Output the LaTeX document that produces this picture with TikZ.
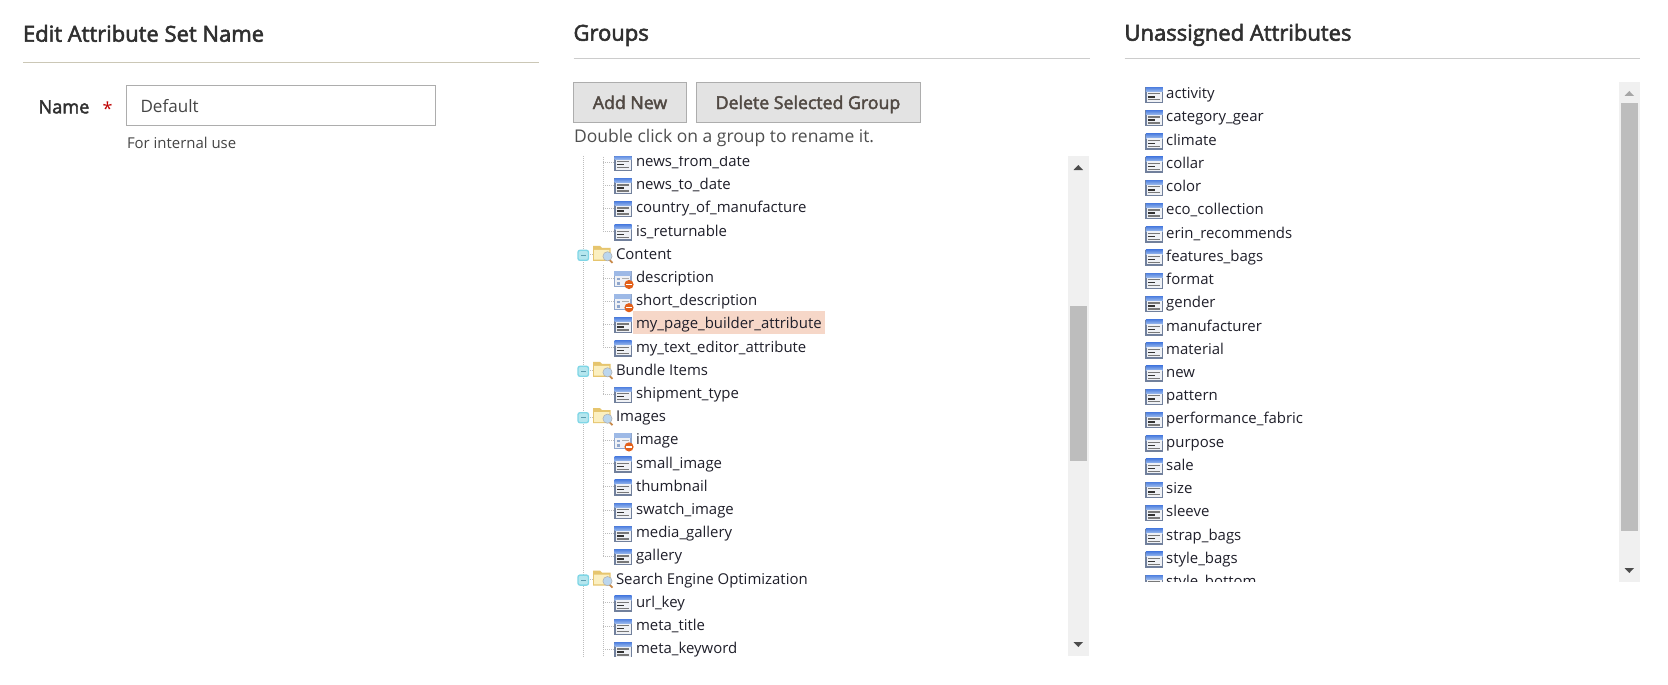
\documentclass[tikz,border=0pt]{standalone}
\usepackage{fontspec}
\setmainfont{Open Sans}
\newfontfamily\semifont[FakeBold=2.5]{Open Sans}
\definecolor{headc}{HTML}{303030}
\definecolor{rulec}{HTML}{CCCCCC}
\definecolor{rulea}{HTML}{CBC7B6}
\definecolor{boxc}{HTML}{ADADAD}
\definecolor{btnc}{HTML}{E3E3E3}
\definecolor{btnt}{HTML}{514943}
\definecolor{treet}{HTML}{1F1F2A}
\definecolor{track}{HTML}{F0F0F0}
\definecolor{thumb}{HTML}{BDBDBD}
\definecolor{hilite}{HTML}{F6D7C8}
\definecolor{treel}{HTML}{BDBDBD}
\definecolor{iconframe}{HTML}{71809C}
\definecolor{icontop}{HTML}{4F80E0}
\definecolor{iconbot}{HTML}{9DBBEC}
\definecolor{iconbody}{HTML}{EFF1F5}
\definecolor{iconline}{HTML}{787878}
\definecolor{iconmid}{HTML}{333333}
\definecolor{lockframe}{HTML}{8FA6CC}
\definecolor{locktop}{HTML}{9DB9E6}
\definecolor{lockdot}{HTML}{E2601A}
\definecolor{foldb}{HTML}{E6C56E}
\definecolor{foldf}{HTML}{FBEFC0}
\definecolor{glass}{HTML}{BBD6EE}
\definecolor{handle}{HTML}{C98A4A}
\definecolor{minb}{HTML}{7FD6E6}
\definecolor{minf}{HTML}{B5E6EE}
\definecolor{minl}{HTML}{5C9DB0}
\tikzset{
  x=0.75pt,y=-0.75pt,
  txt/.style={anchor=base west,inner sep=0pt,outer sep=0pt},
  heading/.style={txt,text=headc,font=\semifont\fontsize{16.5}{18}\selectfont},
  treelabel/.style={txt,text=treet,font=\fontsize{11.2}{14}\selectfont},
  btn/.style={draw=boxc,fill=btnc,line width=0.75pt},
  btntext/.style={anchor=base,text=btnt,inner sep=0pt,font=\semifont\fontsize{13.3}{16}\selectfont},
  dots/.style={draw=treel,line width=0.75pt,dash pattern=on 0.75pt off 0.75pt},
}
\newcommand\attricon[2]{\begin{scope}[shift={(#1,#2)}]
  \fill[iconframe] (0,0) rectangle (18,16);
  \shade[top color=icontop,bottom color=iconbot] (0.5,0) rectangle (17.5,4.5);
  \fill[iconbody] (1.5,4.5) rectangle (16.5,14.5);
  \fill[iconline] (3,6) rectangle (14.5,7.3);
  \fill[iconmid] (3,9) rectangle (9.5,10.4);
  \fill[iconline] (3,12) rectangle (14.5,13.3);
\end{scope}}
\newcommand\lockicon[2]{\begin{scope}[shift={(#1,#2)}]
  \fill[lockframe] (0,0) rectangle (18,16);
  \fill[locktop] (0.5,0) rectangle (17.5,4.5);
  \fill[iconbody] (1.5,4.5) rectangle (16.5,14.5);
  \fill[lockframe] (3,6.5) rectangle (6,9);
  \fill[lockframe] (3,11) rectangle (6,13.5);
  \fill[iconline!60] (8,7) rectangle (15,8);
  \fill[lockdot] (15.5,13.5) circle (4.6);
  \fill[white] (12.8,12.9) rectangle (18.2,14.1);
\end{scope}}
\newcommand\foldericon[2]{\begin{scope}[shift={(#1,#2)}]
  \fill[foldb] (0,0.5) -- (7,0.5) -- (9,2.5) -- (17.5,2.5) -- (17.5,15.5) -- (0,15.5) -- cycle;
  \fill[foldf] (1.2,4.5) -- (16.5,4.5) -- (16,14.3) -- (1.2,14.3) -- cycle;
  \draw[handle,line width=1.3pt] (15.5,13.5) -- (19.5,17.5);
  \fill[glass] (14.5,11) circle (4.6);
  \draw[iconline!60,line width=0.4pt] (14.5,11) circle (4.6);
\end{scope}}
\newcommand\minusicon[2]{\begin{scope}[shift={(#1,#2)}]
  \filldraw[draw=minb,fill=minf,line width=1pt,rounded corners=1.5pt] (0,0) rectangle (10.5,10);
  \fill[minl] (2.5,4.5) rectangle (8,5.6);
\end{scope}}
\begin{document}
\begin{tikzpicture}
\useasboundingbox (0,0) rectangle (1668,685);
\fill[white] (0,0) rectangle (1668,685);
% left column
\node[heading] (h1) at (23,41.7) {Edit Attribute Set Name};
\draw[rulea,line width=0.75pt] (23,62.3) -- (539,62.3);
\node[txt,text=headc,font=\semifont\fontsize{13.6}{16}\selectfont] (nm) at (38.6,113.3) {Name};
\node[txt,text=red!75!black,font=\fontsize{13.5}{16}\selectfont] (st) at (102.5,115.5) {*};
\node[draw=boxc,fill=white,line width=0.75pt,minimum width=309pt*0.75,minimum height=40pt*0.75,anchor=north west,inner sep=0pt] (inp) at (126.4,85.5) {};
\node[txt,text=headc!90!white,font=\fontsize{12.8}{16}\selectfont] (df) at (140.5,112.5) {Default};
\node[txt,text=headc!90!white,font=\fontsize{11.2}{14}\selectfont] (fi) at (127,148.7) {For internal use};
% middle column
\node[heading] (h2) at (573.5,40.7) {Groups};
\draw[rulec,line width=0.75pt] (573.5,59) -- (1090,59);
\filldraw[btn] (573.4,82.3) rectangle (686.7,122.3);
\node[btntext] (b1) at (630,109) {Add New};
\filldraw[btn] (696.4,82.3) rectangle (920.7,122.3);
\node[btntext] (b2) at (808,109) {Delete Selected Group};
\node[txt,text=headc!85!white,font=\fontsize{13.12}{16}\selectfont] (dc) at (574,142.5) {Double click on a group to rename it.};
\begin{scope}
\clip (570,156) rectangle (1066,656);
\draw[dots] (583.5,150) -- (583.5,660);
\fill[hilite] (633,311) rectangle (825,334);
\foreach \a/\b in {-1/3,4/8,9/10,11/17,18/22}{
  \draw[dots] (603.3,{166+23.18*\a+6}) -- (603.3,{166+23.18*\b-4});
}
\foreach \t/\k [count=\i from 0] in {
 news\_from\_date/a,news\_to\_date/a,country\_of\_manufacture/a,is\_returnable/a,
 Content/f,description/d,short\_description/d,my\_page\_builder\_attribute/a,my\_text\_editor\_attribute/a,
 Bundle Items/f,shipment\_type/a,Images/f,image/d,small\_image/a,thumbnail/a,swatch\_image/a,media\_gallery/a,gallery/a,
 Search Engine Optimization/f,url\_key/a,meta\_title/a,meta\_keyword/a}{
  \pgfmathsetmacro\by{166.5+23.2*\i}
  \pgfmathsetmacro\cy{\by-4.5}
  \pgfmathsetmacro\tp{\by-11.5}
  \pgfmathsetmacro\fp{\by-14}
  \pgfmathsetmacro\mp{\by-9}
  \if\k f
    \draw[dots] (583.5,\cy) -- (593,\cy);
    \minusicon{578}{\mp}
    \foldericon{593}{\fp}
    \node[treelabel] (t\i) at (616,\by) {\t};
  \else
    \draw[dots] (603.3,\cy) -- (614,\cy);
    \if\k d \lockicon{613.5}{\tp}\else \attricon{614}{\tp}\fi
    \node[treelabel] (t\i) at (636,\by) {\t};
  \fi
}
\end{scope}
% middle scrollbar
\fill[track] (1068,156) rectangle (1089,656);
\fill[thumb] (1070,306) rectangle (1087,461);
\fill[black!70] (1073.5,170) -- (1083,170) -- (1078.3,165) -- cycle;
\fill[black!70] (1073.5,642) -- (1083,642) -- (1078.3,647) -- cycle;
% right column
\node[heading] (h3) at (1124.5,40.7) {Unassigned Attributes};
\draw[rulec,line width=0.75pt] (1124.5,59) -- (1640,59);
\begin{scope}
\clip (1130,82) rectangle (1610,581.7);
\foreach \t [count=\i from 0] in {activity,category\_gear,climate,collar,color,eco\_collection,erin\_recommends,features\_bags,format,gender,manufacturer,material,new,pattern,performance\_fabric,purpose,sale,size,sleeve,strap\_bags,style\_bags,style\_bottom}{
  \pgfmathsetmacro\by{98.7+23.23*\i}
  \pgfmathsetmacro\tp{\by-11.5}
  \attricon{1145.3}{\tp}
  \node[treelabel] (u\i) at (1166.2,\by) {\t};
}
\end{scope}
% right scrollbar
\fill[track] (1619,82) rectangle (1640,581.7);
\fill[thumb] (1621,103) rectangle (1638,531);
\fill[black!35] (1624.5,96) -- (1634,96) -- (1629.3,91) -- cycle;
\fill[black!70] (1624.5,568) -- (1634,568) -- (1629.3,573) -- cycle;
\end{tikzpicture}
\end{document}
